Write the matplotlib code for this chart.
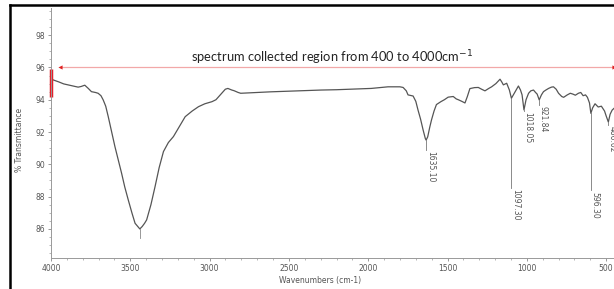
import numpy as np
import matplotlib.pyplot as plt
from matplotlib.lines import Line2D
from matplotlib.ticker import MultipleLocator

# spectrum: wavenumber (cm-1) and % transmittance
wavenumber = [4000, 3987, 3950, 3920, 3892, 3860, 3829, 3810, 3787, 3765,
              3745, 3720, 3703, 3685, 3671, 3655, 3639, 3620, 3597, 3575,
              3555, 3535, 3513, 3490, 3470, 3449, 3440, 3425, 3410, 3397,
              3370, 3344, 3318, 3291, 3260, 3228, 3190, 3154, 3110, 3070,
              3030, 2985, 2960, 2943, 2920, 2901, 2885, 2860, 2846, 2820,
              2804, 2700, 2614, 2450, 2297, 2200, 2087, 1981, 1875, 1800,
              1780, 1760, 1749, 1717, 1700, 1686, 1670, 1654, 1640, 1635,
              1625, 1612, 1601, 1585, 1570, 1542, 1520, 1496, 1464, 1445,
              1432, 1410, 1390, 1375, 1359, 1330, 1306, 1285, 1264, 1240,
              1222, 1195, 1169, 1158, 1148, 1127, 1110, 1097.3, 1085, 1074,
              1053, 1040, 1030, 1018.05, 1005, 989, 975, 958, 945, 935,
              921.84, 908, 895, 880, 863, 845, 832, 815, 800, 780,
              768, 745, 726, 710, 694, 675, 660, 645, 630, 618,
              605, 596.3, 585, 570, 550, 530, 510, 500, 486.02, 475,
              462, 441, 420, 400]
transmittance = [95.3, 95.23, 95.1, 94.98, 94.92, 94.85, 94.78, 94.82, 94.9, 94.7,
                 94.5, 94.45, 94.4, 94.25, 93.99, 93.6, 92.95, 92.1, 91.1, 90.25,
                 89.45, 88.6, 87.8, 87.0, 86.35, 86.1, 86.0, 86.15, 86.35, 86.56,
                 87.5, 88.62, 89.8, 90.79, 91.35, 91.72, 92.35, 92.95, 93.3, 93.57,
                 93.75, 93.88, 94.0, 94.19, 94.45, 94.65, 94.7, 94.6, 94.56, 94.45,
                 94.4, 94.45, 94.49, 94.55, 94.6, 94.62, 94.66, 94.7, 94.8, 94.8,
                 94.76, 94.55, 94.3, 94.23, 93.9, 93.36, 92.8, 92.13, 91.6, 91.5,
                 91.7, 92.3, 92.75, 93.3, 93.7, 93.88, 94.0, 94.16, 94.2, 94.05,
                 94.0, 93.9, 93.8, 94.2, 94.69, 94.75, 94.76, 94.65, 94.55, 94.7,
                 94.8, 95.0, 95.27, 95.1, 94.92, 95.02, 94.6, 94.09, 94.3, 94.5,
                 94.85, 94.6, 94.3, 93.37, 94.0, 94.4, 94.55, 94.6, 94.45, 94.35,
                 93.99, 94.3, 94.5, 94.6, 94.7, 94.78, 94.8, 94.65, 94.4, 94.2,
                 94.15, 94.3, 94.4, 94.35, 94.28, 94.4, 94.45, 94.25, 94.3, 94.15,
                 93.8, 93.16, 93.5, 93.75, 93.55, 93.6, 93.3, 93.0, 92.62, 93.1,
                 93.36, 93.55, 93.5, 93.45]

# labelled peaks and where their leader lines end
peak_wn = [1635.10, 1097.30, 1018.05, 921.84, 596.30, 486.02]
peak_text = ["1635.10", "1097.30", "1018.05", "921.84", "596.30", "486.02"]
peak_end = [90.9, 88.55, 93.3, 93.7, 88.4, 92.45]

# unlabelled minimum of the broad band
band_wn = 3440
band_end = 85.45

xticks = [4000, 3500, 3000, 2500, 2000, 1500, 1000, 500]
yticks = [86, 88, 90, 92, 94, 96, 98]

fig = plt.figure(figsize=(6.14, 2.89), dpi=100)
ax = fig.add_axes([51 / 614, 1 - 258 / 289, 571 / 614, 250 / 289])

wn_asc = np.array(wavenumber[::-1])
t_asc = np.array(transmittance[::-1])

ax.plot(wavenumber, transmittance, color="#555555", lw=0.9)

# peak leader lines + labels
for w, txt, yend in zip(peak_wn, peak_text, peak_end):
    ytop = np.interp(w, wn_asc, t_asc)
    ax.plot([w, w], [ytop, yend], color="#777777", lw=0.6)
    ax.annotate(txt, (w, yend), xytext=(3, -1), textcoords="offset points",
                rotation=-90, ha="center", va="top", fontsize=5.5,
                color="#555555")
ax.plot([band_wn, band_wn], [np.interp(band_wn, wn_asc, t_asc), band_end],
        color="#888888", lw=0.6)

# red marker bar at 4000 and the collected-region arrow
ax.plot([4000, 4000], [95.9, 94.2], color="#e3202a", lw=2.5,
        solid_capstyle="butt", clip_on=False)
ax.plot([3943, 452], [96, 96], color="#f2a8a8", lw=0.9)
ax.plot([3943], [96], marker="<", ms=3, color="#e02020", mec="none")
ax.plot([452], [96], marker=">", ms=3, color="#e02020", mec="none")
fig.text(332 / 614, 1 - 58 / 289,
         "spectrum collected region from 400 to 4000cm$^{-1}$",
         ha="center", va="center", fontsize=9.3, family="Lato", color="#222222")

ax.set_xlim(4000, 400)
ax.set_ylim(84.2, 99.68)
ax.set_xticks(xticks)
ax.set_yticks(yticks)
ax.xaxis.set_minor_locator(MultipleLocator(100))
ax.yaxis.set_minor_locator(MultipleLocator(0.5))
ax.tick_params(which="major", length=2.5, width=0.6, color="#888888",
               labelsize=5.5, labelcolor="#555555", pad=2)
ax.tick_params(which="minor", length=1.2, width=0.5, color="#999999")
for side in ["top", "right"]:
    ax.spines[side].set_visible(False)
for side in ["left", "bottom"]:
    ax.spines[side].set_color("#999999")
    ax.spines[side].set_linewidth(0.7)

fig.text(20 / 614, 1 - 140 / 289, "% Transmittance", rotation=90,
         ha="center", va="center", fontsize=5.5, color="#555555")
fig.text(320 / 614, 1 - 281 / 289, "Wavenumbers (cm-1)",
         ha="center", va="center", fontsize=5.5, color="#555555")

# black frame of the scanned figure (left and top edges)
fig.add_artist(Line2D([9.5 / 614, 9.5 / 614], [0, 1 - 5 / 289],
                      color="black", lw=1.8))
fig.add_artist(Line2D([9.5 / 614, 1], [1 - 5 / 289, 1 - 5 / 289],
                      color="black", lw=1.8))

fig.savefig("out.png", dpi=100)
